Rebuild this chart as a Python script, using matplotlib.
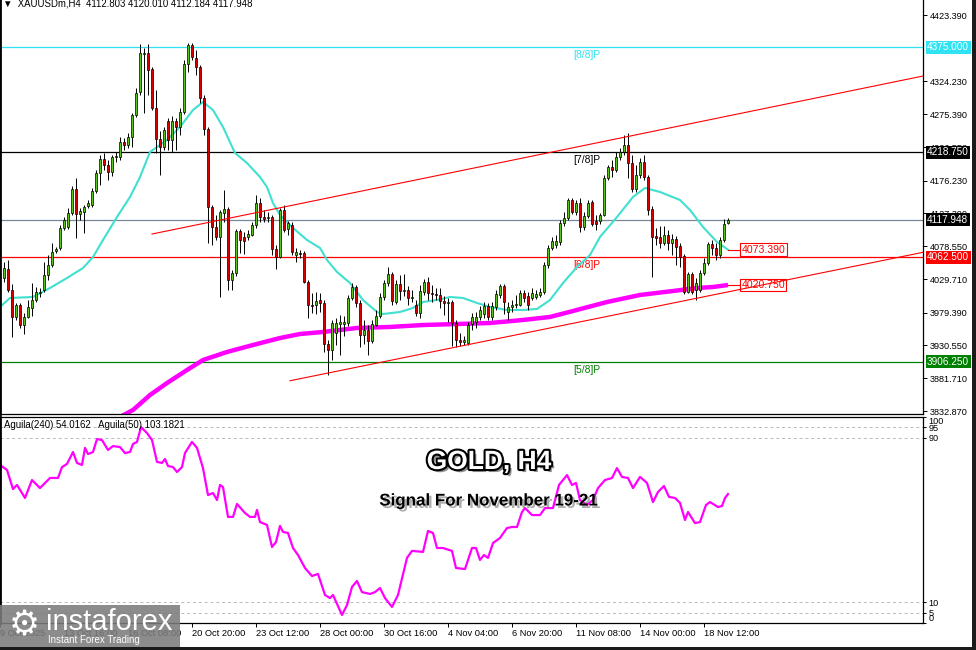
import matplotlib
matplotlib.use('Agg')
import matplotlib.pyplot as plt
import matplotlib.patheffects as pe
from matplotlib.patches import Rectangle
import numpy as np

plt.rcParams['font.family'] = ['Liberation Sans', 'DejaVu Sans']

# H4 candles, 9 Oct .. 19 Nov 2025
opens = [4031.2, 4044.7, 4014.0, 3973.1, 3991.0, 3961.1, 3973.1, 3986.5, 3998.4, 4008.8,
         4013.3, 4035.7, 4050.6, 4071.5, 4076.0, 4105.8, 4107.3, 4128.1, 4164.0, 4126.6,
         4129.6, 4138.6, 4140.1, 4161.0, 4187.8, 4208.7, 4199.7, 4189.3, 4211.7, 4211.7,
         4234.0, 4229.5, 4241.5, 4274.2, 4308.6, 4365.2, 4366.7, 4342.9, 4284.7, 4238.5,
         4226.6, 4265.3, 4237.0, 4265.3, 4256.4, 4278.7, 4350.3, 4378.7, 4359.3, 4345.8,
         4299.6, 4253.4, 4137.1, 4107.3, 4092.4, 4128.1, 4134.1, 4028.2, 4038.7, 4101.3,
         4092.4, 4092.4, 4095.3, 4110.2, 4143.0, 4122.2, 4120.7, 4122.2, 4074.5, 4062.5,
         4132.6, 4104.3, 4110.2, 4065.5, 4068.5, 4068.5, 4025.2, 3991.0, 3991.0, 3998.4,
         3994.0, 3932.8, 3923.8, 3949.2, 3962.6, 3962.6, 3964.1, 4001.4, 4017.8, 3994.0,
         3946.2, 3953.7, 3937.3, 3961.1, 3974.5, 4002.9, 4023.7, 4037.2, 3995.4, 4022.2,
         4011.8, 4013.3, 4001.4, 3991.0, 3979.0, 4010.3, 4025.2, 4008.8, 4007.3, 4005.9,
         3997.0, 3994.0, 3995.4, 3964.1, 3938.8, 3935.8, 3934.3, 3962.6, 3965.6, 3973.1,
         3977.6, 3989.5, 3973.1, 3988.0, 4005.9, 4019.3, 3980.5, 3988.0, 3991.0, 3991.0,
         4008.8, 4004.4, 4001.4, 4002.9, 4005.9, 4010.3, 4050.6, 4076.0, 4080.4, 4084.9,
         4113.2, 4120.7, 4147.5, 4129.6, 4143.0, 4107.3, 4123.7, 4144.5, 4116.2, 4116.2,
         4125.2, 4180.4, 4196.7, 4192.3, 4211.7, 4219.1, 4229.5, 4202.7, 4164.0, 4184.8,
         4204.2, 4181.8, 4134.1, 4093.9, 4092.4, 4083.4, 4095.3, 4083.4, 4089.4, 4079.0,
         4064.0, 4010.3, 4037.2, 4013.3, 4013.3, 4038.7, 4053.6, 4081.9, 4076.0, 4065.5,
         4087.9, 4112.8]
highs = [4055.1, 4058.1, 4022.2, 3993.9, 3993.9, 3979.0, 3998.4, 4023.7, 4017.8, 4016.3,
         4055.1, 4065.5, 4083.4, 4077.5, 4110.2, 4122.2, 4135.6, 4168.5, 4180.4, 4135.6,
         4140.1, 4147.5, 4165.5, 4192.3, 4214.6, 4217.6, 4207.2, 4214.6, 4219.1, 4241.5,
         4240.0, 4247.4, 4277.2, 4314.6, 4380.2, 4374.2, 4380.2, 4345.8, 4311.6, 4250.4,
         4256.4, 4269.8, 4272.8, 4269.8, 4284.7, 4356.3, 4381.6, 4381.6, 4371.2, 4348.8,
         4304.1, 4256.4, 4140.1, 4125.2, 4132.6, 4162.5, 4137.1, 4043.2, 4104.3, 4104.3,
         4099.8, 4102.8, 4114.7, 4155.0, 4150.5, 4132.6, 4129.6, 4125.2, 4080.4, 4135.6,
         4140.1, 4116.2, 4114.7, 4076.0, 4073.0, 4071.5, 4028.2, 4008.8, 4010.3, 4008.8,
         3998.4, 3938.8, 3968.6, 3971.6, 3976.0, 3974.5, 4005.9, 4023.7, 4020.8, 3998.4,
         3968.6, 3961.1, 3968.6, 3983.5, 4008.8, 4028.2, 4047.6, 4040.2, 4028.2, 4035.7,
         4037.2, 4019.3, 4013.3, 3998.4, 4020.8, 4029.7, 4032.7, 4020.8, 4016.3, 4016.3,
         4004.4, 4001.4, 3998.4, 3968.6, 3949.2, 3944.7, 3965.6, 3979.0, 3980.5, 3989.5,
         3995.4, 3994.0, 3995.4, 4013.3, 4022.2, 4022.2, 3995.4, 3998.4, 4005.9, 4013.3,
         4013.3, 4010.3, 4016.3, 4013.3, 4016.3, 4055.1, 4080.4, 4092.4, 4095.3, 4117.7,
         4129.6, 4150.5, 4150.5, 4147.5, 4150.5, 4129.6, 4147.5, 4147.5, 4125.2, 4128.1,
         4184.8, 4199.7, 4207.2, 4219.1, 4225.1, 4244.4, 4247.4, 4214.6, 4199.7, 4210.2,
         4214.6, 4184.8, 4138.6, 4105.8, 4108.7, 4108.7, 4102.8, 4096.8, 4093.9, 4083.4,
         4067.0, 4040.2, 4040.2, 4031.2, 4043.2, 4061.0, 4084.9, 4087.9, 4083.4, 4092.4,
         4119.2, 4120.0]
lows = [4025.2, 4010.3, 3943.3, 3968.6, 3956.7, 3947.7, 3971.6, 3974.5, 3995.4, 4002.9,
        4010.3, 4028.2, 4048.2, 4068.5, 4073.0, 4102.8, 4104.3, 4125.2, 4090.9, 4117.7,
        4098.3, 4135.6, 4137.1, 4158.0, 4170.0, 4192.3, 4177.4, 4183.4, 4204.2, 4207.2,
        4222.1, 4225.1, 4226.6, 4271.2, 4304.1, 4277.2, 4304.1, 4281.7, 4217.6, 4184.8,
        4222.1, 4222.1, 4219.1, 4222.1, 4244.4, 4275.7, 4338.4, 4356.3, 4333.9, 4292.1,
        4244.4, 4083.4, 4080.4, 4087.9, 4002.9, 4114.7, 4013.3, 4013.3, 4034.2, 4068.5,
        4067.0, 4087.9, 4093.9, 4105.8, 4114.7, 4114.7, 4114.7, 4065.5, 4044.7, 4061.0,
        4099.8, 4095.3, 4065.5, 4055.1, 4061.0, 4023.7, 3971.6, 3979.0, 3977.6, 3980.5,
        3920.8, 3886.6, 3908.9, 3931.3, 3916.4, 3944.7, 3959.6, 3998.4, 3988.0, 3928.3,
        3932.8, 3916.4, 3934.3, 3959.6, 3971.6, 3998.4, 4019.3, 3991.0, 3992.4, 3998.4,
        4004.4, 3991.0, 3995.4, 3974.5, 3971.6, 4005.9, 3998.4, 3995.4, 3998.4, 3986.5,
        3976.0, 3965.6, 3929.8, 3928.3, 3929.8, 3931.3, 3931.3, 3953.7, 3956.7, 3968.6,
        3971.6, 3968.6, 3968.6, 3983.5, 4001.4, 3977.6, 3968.6, 3980.5, 3986.5, 3989.5,
        3995.4, 3983.5, 3998.4, 3999.9, 4002.9, 4007.3, 4046.2, 4073.0, 4076.0, 4080.4,
        4108.7, 4117.7, 4126.6, 4125.2, 4099.8, 4102.8, 4120.7, 4108.7, 4102.8, 4111.7,
        4123.7, 4177.4, 4181.8, 4189.3, 4207.2, 4214.6, 4180.4, 4159.5, 4159.5, 4180.4,
        4177.4, 4125.2, 4032.7, 4080.4, 4076.0, 4080.4, 4073.0, 4065.5, 4050.6, 4048.0,
        4007.3, 4008.8, 4007.3, 3998.4, 4010.3, 4035.7, 4050.6, 4065.5, 4058.1, 4061.0,
        4084.9, 4112.2]
closes = [4046.2, 4013.3, 3973.1, 3991.0, 3961.1, 3973.1, 3988.0, 3998.4, 4010.3, 4010.3,
          4035.7, 4050.6, 4070.0, 4074.5, 4105.8, 4117.7, 4128.1, 4164.0, 4126.6, 4131.1,
          4137.1, 4143.0, 4161.0, 4187.8, 4208.7, 4199.7, 4189.3, 4211.7, 4213.2, 4234.0,
          4229.5, 4241.5, 4274.2, 4307.1, 4366.7, 4366.7, 4341.4, 4284.7, 4238.5, 4226.6,
          4251.9, 4237.0, 4265.3, 4256.4, 4278.7, 4350.3, 4378.7, 4360.8, 4345.8, 4299.6,
          4253.4, 4137.1, 4107.3, 4092.4, 4129.6, 4134.1, 4028.2, 4038.7, 4101.3, 4087.9,
          4086.4, 4096.8, 4110.2, 4143.0, 4122.2, 4119.2, 4122.2, 4074.5, 4062.5, 4132.6,
          4102.8, 4113.2, 4070.0, 4070.0, 4067.0, 4025.2, 3991.0, 3990.0, 3997.0, 3994.0,
          3932.8, 3923.8, 3964.1, 3964.1, 3965.6, 3965.6, 4001.4, 4017.8, 3994.0, 3946.2,
          3953.7, 3937.3, 3962.6, 3974.5, 4002.9, 4023.7, 4037.2, 3997.0, 4022.2, 4011.8,
          4013.3, 4001.4, 4002.9, 3979.0, 4011.8, 4025.2, 4008.8, 4007.3, 4005.9, 3997.0,
          3994.0, 3995.4, 3964.1, 3938.8, 3935.8, 3938.8, 3961.1, 3973.1, 3973.1, 3983.5,
          3989.5, 3973.1, 3989.5, 4007.3, 4019.3, 3995.4, 3988.0, 3991.0, 3992.5, 4008.8,
          4001.4, 3991.0, 4008.8, 4007.3, 4010.3, 4050.6, 4076.0, 4086.4, 4086.4, 4113.2,
          4120.7, 4147.5, 4129.6, 4143.0, 4107.3, 4123.7, 4143.0, 4111.7, 4111.7, 4125.2,
          4180.4, 4196.7, 4192.3, 4211.7, 4219.1, 4229.5, 4202.7, 4164.0, 4184.8, 4204.2,
          4181.8, 4132.6, 4092.4, 4090.9, 4083.4, 4095.3, 4083.4, 4089.4, 4077.5, 4062.5,
          4010.3, 4037.2, 4010.3, 4023.7, 4038.7, 4053.6, 4081.9, 4076.0, 4065.5, 4087.9,
          4111.7, 4117.9]

# moving averages (bar index, price)
ma_fast_x = [-1, 1.5, 7.25, 11.5, 15.75, 19.75, 22.25, 24.75, 28.25, 31.5, 34, 36.5, 40.75, 44,
             47.25, 49.75, 52.25, 54.75, 57.75, 60.75, 64, 65.75, 67.25, 69, 72.25, 75.75, 79,
             80.75, 83.25, 86.5, 89.75, 93.25, 94.75, 99, 102.25, 104.75, 108.25, 111.5, 114.75,
             118.25, 121.5, 125.75, 129.75, 133.25, 136.5, 139.75, 143.25, 146.5, 149, 153.25,
             157.25, 160.25, 164, 169, 171.5, 174.75, 178.25, 181]
ma_fast_y = [3988.0, 4001.4, 4002.9, 4016.3, 4031.2, 4046.1, 4062.5, 4087.9, 4122.2, 4152.0,
             4181.8, 4219.1, 4237.0, 4256.4, 4281.7, 4293.7, 4281.7, 4256.4, 4217.6, 4202.7,
             4181.8, 4166.9, 4143.0, 4125.2, 4105.8, 4087.9, 4076.0, 4058.1, 4040.2, 4023.7,
             3998.4, 3980.5, 3977.5, 3980.5, 3986.5, 3995.4, 3998.4, 4002.9, 4001.4, 3994.0,
             3988.0, 3983.5, 3983.5, 3985.0, 3998.4, 4023.7, 4047.6, 4065.5, 4092.4, 4122.2,
             4152.0, 4165.4, 4159.5, 4147.5, 4132.6, 4107.3, 4084.9, 4073.39]
ma_slow_x = [28.5, 32.25, 36.5, 40.75, 45.75, 49.75, 55.75, 62.25, 69, 74, 79.75, 88.25, 96.5,
             104.75, 113.25, 121.5, 129.75, 136.5, 142.25, 150.75, 159, 167.25, 173.25, 177.25, 181]
ma_slow_y = [3822.4, 3834.4, 3856.7, 3874.6, 3894.0, 3908.9, 3920.9, 3931.3, 3941.7, 3947.7,
             3950.7, 3956.7, 3958.2, 3961.1, 3962.6, 3964.1, 3968.6, 3973.1, 3982.0, 3995.4,
             4005.9, 4011.8, 4016.3, 4017.8, 4020.75]

# channel lines
chan_up_x, chan_up_y = [37, 229.75], [4096.8, 4332.4]
chan_lo_x, chan_lo_y = [71.5, 229.75], [3878.0, 4069.5]

# murrey levels
levels = [4375.0, 4218.75, 4062.5, 3906.25]
level_names = ['[8/8]P', '[7/8]P', '[6/8]P', '[5/8]P']
level_colors = ['#2FE3F2', 'black', '#FF0000', '#008000']
last_price = 4117.948

price_ticks = [4423.39, 4324.23, 4275.39, 4226.55, 4176.23, 4127.39,
               4078.55, 4029.71, 3979.39, 3930.55, 3881.71, 3832.87]

date_pos = [-1, 15, 31, 47, 63, 79, 95, 111, 127, 143, 159, 175]
date_labels = ['9 Oct 2025', '13 Oct 16:00', '16 Oct 08:00', '20 Oct 20:00', '23 Oct 12:00',
               '28 Oct 00:00', '30 Oct 16:00', '4 Nov 04:00', '6 Nov 20:00', '11 Nov 08:00',
               '14 Nov 00:00', '18 Nov 12:00']

# Aguila oscillator
ag_x = [-1, 0.75, 2.25, 3.25, 5.25, 7, 9, 11.5, 13.5, 14.5, 15.75, 17.25, 18.25, 19.5, 20.25, 21,
        22.25, 23.25, 24.5, 26, 27.25, 29, 30.25, 31.5, 32.25, 33.25, 34.25, 35.75, 37, 38.25,
        39.5, 40.25, 41, 42.25, 43.25, 44.5, 45.25, 47, 48.25, 49.75, 51, 52.25, 53.25, 54, 54.75,
        56, 57.25, 58.25, 60.25, 61.5, 62.75, 63.25, 64, 65.75, 67, 68, 69, 69.75, 71, 72.25,
        73.5, 75.25, 77, 78.5, 80.25, 81.5, 82.25, 84.5, 85.75, 87, 88.25, 89.5, 91.5, 92.75,
        94, 95.25, 97, 98.5, 100.75, 102, 104.75, 106, 107.25, 108.25, 109.75, 112, 113, 115.25,
        117, 118, 119, 120, 121, 122.25, 124, 125.75, 127, 128.25, 129.5, 130.25, 132, 134,
        135.25, 137.25, 138.75, 140.75, 142, 143, 144, 145.75, 147.25, 148.5, 150.25, 152,
        153.25, 154.5, 156, 157.25, 159, 160.75, 162.25, 163.5, 165, 166.25, 167.75, 169,
        170.25, 171, 172.75, 174, 175.5, 176.5, 178.5, 179.5, 180.25, 181]
ag_v = [76.7, 74.3, 65.0, 67.0, 60.7, 69.4, 65.5, 70.4, 70.4, 75.7, 77.2, 83.0, 77.7, 76.7, 85.0,
        82.0, 83.0, 89.3, 88.8, 84.0, 85.9, 85.4, 82.5, 83.0, 86.9, 87.9, 95.1, 92.2, 88.8, 78.2,
        77.7, 79.6, 76.2, 75.7, 73.3, 75.7, 82.5, 87.9, 85.0, 75.2, 62.1, 63.1, 59.7, 67.0, 66.0,
        51.5, 51.5, 57.8, 53.4, 51.5, 51.5, 54.9, 49.0, 47.6, 36.9, 39.3, 47.1, 44.2, 43.7, 36.4,
        33.0, 26.7, 22.8, 23.8, 13.6, 12.1, 13.6, 3.9, 8.7, 17.5, 20.4, 15.0, 14.1, 15.0, 17.0,
        12.1, 7.8, 13.6, 31.6, 35.0, 34.5, 44.7, 43.7, 36.4, 36.4, 35.0, 26.7, 26.2, 36.4, 36.4,
        30.6, 33.0, 31.6, 38.8, 41.3, 46.1, 46.6, 46.6, 53.9, 55.8, 52.4, 52.4, 55.8, 55.8, 67.0,
        71.8, 67.0, 68.0, 59.7, 57.3, 59.7, 65.5, 69.4, 70.4, 75.2, 70.9, 70.4, 65.5, 70.9, 68.0,
        58.7, 63.6, 66.5, 61.2, 60.7, 58.3, 50.0, 53.9, 48.5, 49.0, 57.3, 58.7, 56.3, 56.8, 60.7,
        62.6]
ag_levels = [95, 90, 10, 5]

W, H = 976, 650
fig = plt.figure(figsize=(W / 100, H / 100), dpi=100)
ax = fig.add_axes([0, 1 - 414 / H, 923 / W, 414 / H])
ax2 = fig.add_axes([0, 1 - 623 / H, 923 / W, 206 / H])

x = np.arange(len(closes))
o = np.array(opens)
c = np.array(closes)
up = c >= o
bot = np.minimum(o, c)
hgt = np.maximum(np.abs(c - o), 0.9)

# horizontal levels
for lv, nm, col in zip(levels, level_names, level_colors):
    ax.axhline(lv, color=col, lw=0.9, zorder=1)
    ax.annotate(nm, xy=(142.3, lv), xytext=(0, -2), textcoords='offset points',
                ha='left', va='top', fontsize=7.4, color=col, zorder=2)
ax.axhline(last_price, color='#778899', lw=0.9, zorder=1)

ax.plot(chan_up_x, chan_up_y, color='#FF0000', lw=0.8, zorder=6)
ax.plot(chan_lo_x, chan_lo_y, color='#FF0000', lw=0.8, zorder=6)

ax.plot(ma_slow_x, ma_slow_y, color='#FF00FF', lw=3.2, zorder=2, solid_capstyle='butt')
ax.plot(ma_fast_x, ma_fast_y, color='#40E0D0', lw=1.5, zorder=2)

ax.vlines(x, lows, highs, color='black', lw=0.7, zorder=3)
ax.bar(x[up], hgt[up], bottom=bot[up], width=0.62, color='#5FC21A',
       edgecolor='black', lw=0.5, zorder=4)
ax.bar(x[~up], hgt[~up], bottom=bot[~up], width=0.62, color='#D50000',
       edgecolor='black', lw=0.5, zorder=4)

# value tags at the end of the moving averages
for val in [ma_fast_y[-1], ma_slow_y[-1]]:
    ax.plot([181, 184.2], [val, val], color='#FF0000', lw=0.8, zorder=4)
    ax.text(184.4, val, '%.3f' % val, ha='left', va='center', fontsize=7.6, color='#FF0000',
            zorder=5, bbox=dict(boxstyle='square,pad=0.12', fc='white', ec='#FF0000', lw=0.8))

ax.set_xlim(-1, 229.75)
ax.set_ylim(3828.4, 4445.76)
ax.yaxis.tick_right()
ax.set_yticks(price_ticks, ['%.3f' % t for t in price_ticks])
ax.tick_params(axis='y', direction='out', length=3, pad=2, labelsize=6.6, width=0.7)
ax.tick_params(axis='x', bottom=False, labelbottom=False)
ax.spines['top'].set_visible(False)
for s in ['left', 'right', 'bottom']:
    ax.spines[s].set_linewidth(0.9)
ax.spines['left'].set_linewidth(2)

# boxed price tags on the axis
tr = ax.get_yaxis_transform()
tags = [(4375.0, '#2FE3F2'), (4218.75, 'black'), (last_price, 'black'),
        (4062.5, '#FF0000'), (3906.25, '#008000')]
for val, col in tags:
    ax.text(927 / 923, val, '%.3f' % val, transform=tr, ha='left', va='center',
            fontsize=7.2, color='white', zorder=10, clip_on=False,
            bbox=dict(boxstyle='square,pad=0.15', fc=col, ec='none'))

# oscillator panel
for lv in ag_levels:
    ax2.axhline(lv, color='#B8B8B8', lw=0.7, ls=(0, (3, 3)), zorder=1)
ax2.plot(ag_x, ag_v, color='#FF00FF', lw=1.6, zorder=2)
ax2.set_xlim(-1, 229.75)
ax2.set_ylim(0, 100)
ax2.yaxis.tick_right()
ax2.set_yticks([100, 95, 90, 10, 5, 0], ['100', '95', '90', '10', '5', '0'])
ax2.tick_params(axis='y', direction='out', length=2, pad=2, labelsize=6.6, width=0.7)
ylbl = ax2.get_yticklabels()
ylbl[0].set_va('top')
ylbl[-1].set_va('bottom')
ax2.set_xticks(date_pos, date_labels)
ax2.tick_params(axis='x', direction='out', length=3, pad=1.5, labelsize=6.7, width=0.7)
for lbl in ax2.get_xticklabels():
    lbl.set_ha('left')
for s in ax2.spines.values():
    s.set_linewidth(0.9)
ax2.spines['left'].set_linewidth(2)
ax2.text(4 / 923, (623 - 425) / 206, 'Aguila(240) 54.0162   Aguila(50) 103.1821',
         transform=ax2.transAxes, fontsize=6.9, va='center', ha='left')

# chart header
fig.text(3 / W, 1 - 6 / H, '\u25bc  XAUUSDm,H4  4112.803 4120.010 4112.184 4117.948',
         fontsize=6.9, va='baseline', ha='left')

# titles
fig.text(489 / W, 1 - 462 / H, 'GOLD, H4', ha='center', va='center', fontsize=19,
         fontweight='bold', color='white', zorder=8,
         path_effects=[pe.SimplePatchShadow(offset=(2.2, -2.2), shadow_rgbFace='#444444', alpha=0.6),
                       pe.Stroke(linewidth=3, foreground='black'), pe.Normal()])
fig.text(488 / W, 1 - 501 / H, 'Signal For November 19-21', ha='center', va='center',
         fontsize=12.2, fontweight='bold', color='black', zorder=8,
         path_effects=[pe.SimplePatchShadow(offset=(1.8, -1.8), shadow_rgbFace='#777777', alpha=0.6),
                       pe.Normal()])

# logo
fig.add_artist(Rectangle((0, 0), 180 / W, 45 / H, transform=fig.transFigure,
                         fc='#7C7C7C', ec='none', alpha=0.88, zorder=9))
fig.text(24 / W, 1 - 625 / H, '\u2699', family='DejaVu Sans', fontsize=25, color='white',
         ha='center', va='center', zorder=10)
fig.text(46 / W, 1 - 630 / H, 'instaforex', fontsize=21, color='white',
         ha='left', va='baseline', zorder=10)
fig.text(48 / W, 1 - 643 / H, 'Instant Forex Trading', fontsize=7, color='white',
         ha='left', va='baseline', zorder=10)

# screenshot frame
fig.add_artist(Rectangle((972 / W, 0), 4 / W, 1, transform=fig.transFigure,
                         fc='#1a1a1a', ec='none', zorder=11))
fig.add_artist(Rectangle((0, 0), 1, 3 / H, transform=fig.transFigure,
                         fc='#1a1a1a', ec='none', zorder=11))

fig.savefig('out.png', dpi=100)
